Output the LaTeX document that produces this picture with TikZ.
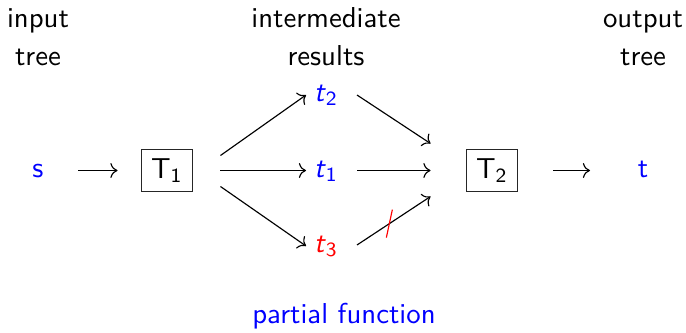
\documentclass[tikz,border=0pt]{standalone}
\usepackage{tikz}
\usetikzlibrary{arrows.meta,positioning}

\begin{document}
\begin{tikzpicture}[x=0.0122cm, y=-0.0122cm, font=\sffamily,
      lbl/.style={anchor=base, inner sep=0pt},
      term/.style={anchor=base, inner sep=0pt, text=blue},
      trans/.style={draw=black!85, thin, minimum width=18pt, minimum height=14.8pt, inner sep=2pt},
      arr/.style={->, thin}]
    \useasboundingbox (0,0) rectangle (686,332);
    \node[lbl] (inlbl) at (38,27) {input};
    \node[lbl] (intree) at (38,65) {tree};
    \node[lbl] (midlbl) at (326,27) {intermediate};
    \node[lbl] (midres) at (326,65) {results};
    \node[lbl] (outlbl) at (643,27) {output};
    \node[lbl] (outtree) at (643,65) {tree};
    \node[term] (s) at (38,177.5) {s};
    \node[trans] (T1) at (167,170.5) {T\textsubscript{1}};
    \node[term] (t2) at (326,101) {\textit{t}\textsubscript{2}};
    \node[term] (t1) at (326,177.5) {\textit{t}\textsubscript{1}};
    \node[term, text=red] (t3) at (326,252) {\textit{t}\textsubscript{3}};
    \node[trans] (T2) at (492,170.5) {T\textsubscript{2}};
    \node[term] (t) at (643,177.5) {t};
    \node[lbl, text=blue] (partial) at (344,323) {partial function};
    \draw[arr] ([shift={(40,-7)}]s.base) -- ([shift={(-23,0)}]T1.west);
    \draw[arr] ([shift={(27,-15)}]T1.east) -- ([shift={(-20,-6)}]t2.base);
    \draw[arr] ([shift={(27,0)}]T1.east) -- ([shift={(-20,-7)}]t1.base);
    \draw[arr] ([shift={(27,16)}]T1.east) -- ([shift={(-20,-6)}]t3.base);
    \draw[arr] ([shift={(31,-6)}]t2.base) -- ([shift={(-35,-27)}]T2.west);
    \draw[arr] ([shift={(31,-7)}]t1.base) -- ([shift={(-35,0)}]T2.west);
    \draw[arr] ([shift={(31,-7)}]t3.base) -- coordinate[pos=0.44] (cut) ([shift={(-35,26)}]T2.west);
    \draw[red, thin] ([shift={(-3,14)}]cut) -- ([shift={(3,-14)}]cut);
    \draw[arr] ([shift={(35,0)}]T2.east) -- ([shift={(-53,-7)}]t.base);
  \end{tikzpicture}
\end{document}
